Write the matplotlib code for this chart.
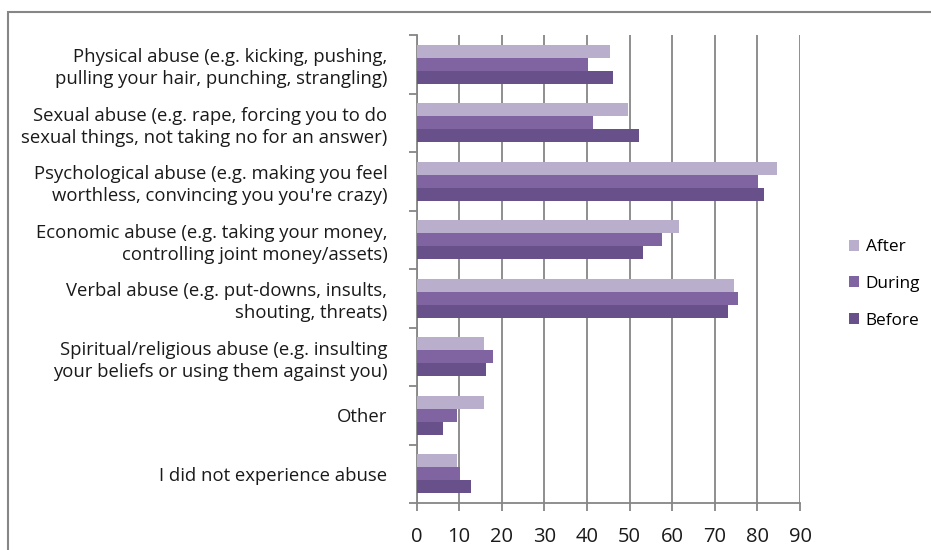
import matplotlib
matplotlib.use("Agg")
import matplotlib.pyplot as plt
import numpy as np
from matplotlib.patches import Rectangle

categories = [
    "Physical abuse (e.g. kicking, pushing,\npulling your hair, punching, strangling)",
    "Sexual abuse (e.g. rape, forcing you to do\nsexual things, not taking no for an answer)",
    "Psychological abuse (e.g. making you feel\nworthless, convincing you you're crazy)",
    "Economic abuse (e.g. taking your money,\ncontrolling joint money/assets)",
    "Verbal abuse (e.g. put-downs, insults,\nshouting, threats)",
    "Spiritual/religious abuse (e.g. insulting\nyour beliefs or using them against you)",
    "Other",
    "I did not experience abuse",
]
after = [45.4, 49.6, 84.7, 61.7, 74.5, 15.9, 15.9, 9.4]
during = [40.3, 41.4, 80.2, 57.7, 75.5, 18.0, 9.6, 10.3]
before = [46.0, 52.1, 81.6, 53.1, 73.0, 16.4, 6.3, 12.9]
xticks = [0, 10, 20, 30, 40, 50, 60, 70, 80, 90]

plt.rcParams['font.family'] = ['Open Sans', 'DejaVu Sans']

W, H = 931, 550
fig = plt.figure(figsize=(W / 100, H / 100), dpi=100)
ax = fig.add_axes([416.5 / W, 1 - 503 / H, (800 - 416.5) / W, (503 - 35) / H])

# outer chart frame
fig.patches.append(Rectangle((8 / W, -0.1), 1.2, 1 - 12 / H + 0.1, transform=fig.transFigure,
                             fill=False, edgecolor='#868686', linewidth=1.5))

y = np.arange(len(categories))
h = 0.222
c_after, c_during, c_before = '#B9AECB', '#8064A2', '#68508A'
ax.barh(y - h, after, height=h, color=c_after, label='After', zorder=3)
ax.barh(y, during, height=h, color=c_during, label='During', zorder=3)
ax.barh(y + h, before, height=h, color=c_before, label='Before', zorder=3)

ax.set_ylim(len(categories) - 0.5, -0.5)
ax.set_xlim(0, 90)
ax.set_xticks(xticks)
ax.set_xticklabels([str(t) for t in xticks], fontsize=14.5, color='#1a1a1a')
ax.set_yticks(y)
ax.set_yticklabels(categories, fontsize=13.3, color='#1a1a1a', linespacing=1.3)
ax.set_yticks(np.arange(len(categories) + 1) - 0.5, minor=True)
ax.tick_params(axis='y', which='major', length=0, pad=21)
ax.tick_params(axis='y', which='minor', length=6, color='#868686', width=1.3)
ax.tick_params(axis='x', length=6, color='#868686', width=1.3, pad=11)
ax.grid(axis='x', color='#868686', linewidth=1.3, zorder=0)
for s in ['top', 'right']:
    ax.spines[s].set_visible(False)
for s in ['left', 'bottom']:
    ax.spines[s].set_color('#868686')
    ax.spines[s].set_linewidth(1.3)

ax.legend(loc='center left', bbox_to_anchor=(833 / W, 1 - 284 / H), bbox_transform=fig.transFigure,
          frameon=False, fontsize=12.4, handlelength=0.6, handleheight=0.6, labelspacing=1.2,
          handletextpad=0.4)

fig.savefig('out.png', dpi=100)
